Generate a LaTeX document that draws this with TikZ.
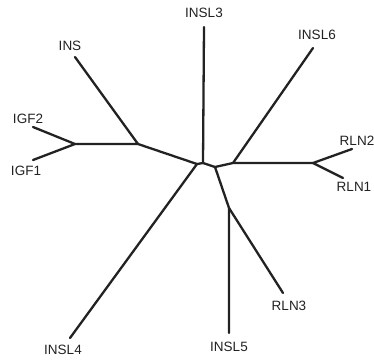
\documentclass[tikz,border=0pt]{standalone}
\usepackage{fontspec}
\setmainfont{Liberation Sans}
\definecolor{branch}{HTML}{222222}
\begin{document}
\begin{tikzpicture}[x=1pt,y=-1pt,
  br/.style={draw=branch,line width=2.3pt,line cap=round,line join=round},
  lbl/.style={inner sep=0pt,font=\fontsize{13.5}{15}\selectfont,text=branch}]
\useasboundingbox (0,0) rectangle (374,360);
% internal junctions
\coordinate (j0) at (197,164);
\coordinate (j1) at (203,163);
\coordinate (jb) at (215,167);
\coordinate (jc) at (233,163);
\coordinate (jr) at (313,163);
\coordinate (jd) at (229,208);
\coordinate (ji) at (138,144);
\coordinate (jg) at (75,144);
% leaf ends
\coordinate (eINSL3) at (204,27);
\coordinate (eINSL6) at (313,48);
\coordinate (eRLN2) at (352,149);
\coordinate (eRLN1) at (343,178);
\coordinate (eRLN3) at (283,293);
\coordinate (eINSL5) at (229,333);
\coordinate (eINSL4) at (70,338);
\coordinate (eINS) at (75,57);
\coordinate (eIGF2) at (33,127);
\coordinate (eIGF1) at (33,160);
% labels
\node[lbl] (INSL3) at (204,13) {INSL3};
\node[lbl] (INSL6) at (317,35) {INSL6};
\node[lbl] (RLN2) at (357,141) {RLN2};
\node[lbl] (RLN1) at (354,187) {RLN1};
\node[lbl] (RLN3) at (289,306) {RLN3};
\node[lbl] (INSL5) at (229,347) {INSL5};
\node[lbl] (INSL4) at (63,350) {INSL4};
\node[lbl] (INS) at (70,46) {INS};
\node[lbl] (IGF2) at (28,119) {IGF2};
\node[lbl] (IGF1) at (26,171) {IGF1};
% branches
\draw[br] (eINSL3) -- (j1);
\draw[br] (ji) -- (j0) -- (j1) -- (jb) -- (jc) -- (jr);
\draw[br] (j0) -- (eINSL4);
\draw[br] (jb) -- (jd) -- (eINSL5);
\draw[br] (jd) -- (eRLN3);
\draw[br] (jc) -- (eINSL6);
\draw[br] (eRLN2) -- (jr) -- (eRLN1);
\draw[br] (eINS) -- (ji) -- (jg);
\draw[br] (eIGF2) -- (jg) -- (eIGF1);
\end{tikzpicture}
\end{document}
